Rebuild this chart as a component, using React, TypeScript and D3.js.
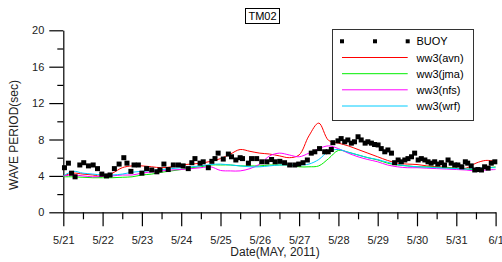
import React, { useEffect, useRef } from 'react'
import * as d3 from 'd3'

// buoy observations: day offset from 5/21 00:00, period in seconds
const buoyDay = [
  0.03, 0.13, 0.21, 0.30, 0.42, 0.52, 0.64, 0.76, 0.87, 0.98,
  1.10, 1.19, 1.30, 1.42, 1.54, 1.62, 1.72, 1.80, 1.91, 2.00,
  2.12, 2.25, 2.38, 2.46, 2.56, 2.67, 2.80, 2.93, 3.05, 3.18,
  3.27, 3.35, 3.48, 3.56, 3.69, 3.78, 3.86, 3.94, 4.07, 4.20,
  4.28, 4.39, 4.50, 4.56, 4.71, 4.79, 4.92, 5.05, 5.18, 5.30,
  5.39, 5.51, 5.63, 5.76, 5.89, 5.99, 6.10, 6.21, 6.31, 6.40,
  6.52, 6.65, 6.74, 6.82, 6.86, 6.99, 7.07, 7.16, 7.24, 7.33,
  7.41, 7.50, 7.58, 7.68, 7.75, 7.84, 7.92, 8.01, 8.09, 8.18,
  8.26, 8.35, 8.43, 8.52, 8.60, 8.69, 8.77, 8.86, 8.94, 9.03,
  9.11, 9.20, 9.28, 9.36, 9.45, 9.53, 9.62, 9.70, 9.79, 9.87,
  9.96, 10.04, 10.14, 10.23, 10.29, 10.38, 10.47, 10.55, 10.64, 10.72,
  10.81, 10.89, 10.98,
]
const buoyVal = [
  4.9, 5.4, 4.3, 3.9, 5.2, 5.45, 5.1, 5.2, 4.8, 4.2,
  4.0, 4.1, 4.8, 5.3, 6.0, 5.4, 4.5, 5.2, 5.2, 4.3,
  4.8, 4.65, 4.45, 4.65, 5.3, 4.7, 5.2, 5.2, 5.1, 4.8,
  5.45, 5.9, 5.4, 5.55, 4.9, 5.6, 5.9, 6.5, 5.85, 6.4,
  6.1, 5.75, 6.0, 5.9, 5.4, 5.9, 5.9, 5.55, 5.55, 5.8,
  5.55, 5.6, 5.45, 5.2, 5.2, 5.3, 5.45, 5.75, 6.5, 6.65,
  7.0, 6.65, 6.65, 6.9, 7.65, 7.85, 8.1, 7.75, 7.95, 7.6,
  7.75, 8.3, 7.95, 7.6, 7.75, 7.6, 7.45, 7.4, 7.0, 6.65,
  6.85, 6.5, 5.45, 5.75, 5.55, 5.75, 5.9, 6.1, 6.5, 5.75,
  5.9, 5.75, 5.55, 5.4, 5.55, 5.3, 5.45, 5.2, 5.75, 5.4,
  5.2, 5.2, 5.0, 5.55, 5.4, 5.1, 4.65, 4.7, 4.65, 5.0,
  4.85, 5.4, 5.55,
]

// model output every 6 hours from 5/21 00:00
const avn = [
  4.0, 4.3, 4.2, 4.1, 3.95, 4.3, 4.9, 5.1, 5.1, 5.0, 4.9, 5.0,
  5.2, 5.3, 5.4, 5.6, 5.9, 6.4, 6.9, 6.7, 6.5, 6.4, 6.2, 6.0,
  6.3, 8.4, 9.8, 7.9, 7.6, 7.3, 6.9, 6.5, 6.1, 5.7, 5.4, 5.3,
  5.25, 5.1, 5.0, 4.95, 4.85, 4.85, 5.4, 5.7, 5.6,
]
const jma = [
  3.9, 3.9, 3.85, 3.8, 3.8, 3.8, 3.85, 3.9, 4.1, 4.2, 4.4, 4.55,
  4.7, 4.9, 5.0, 5.2, 5.2, 5.2, 5.1, 5.1, 5.1, 5.2, 5.2, 5.2,
  5.0, 5.0, 5.1, 5.9, 6.8, 6.6, 6.3, 6.0, 5.75, 5.4, 5.2, 5.1,
  5.0, 5.0, 4.95, 4.9, 4.85, 4.75, 4.7, 4.85, 5.0,
]
const nfs = [
  4.0, 4.1, 4.0, 3.9, 3.95, 4.0, 4.1, 4.1, 4.3, 4.45, 4.55, 4.65,
  4.7, 4.8, 4.9, 5.0, 4.6, 4.55, 4.55, 4.8, 5.3, 6.2, 6.5, 6.3,
  6.1, 6.5, 7.0, 7.3, 7.0, 6.5, 6.1, 5.8, 5.55, 5.2, 5.0, 4.9,
  4.9, 4.85, 4.8, 4.75, 4.7, 4.65, 4.55, 4.65, 4.7,
]
const wrf = [
  4.0, 4.5, 4.3, 4.2, 4.1, 4.1, 4.2, 4.4, 4.5, 4.6, 4.7, 4.8,
  4.9, 5.0, 5.1, 5.25, 5.3, 5.2, 5.1, 5.0, 5.0, 5.1, 5.2, 5.2,
  5.2, 5.3, 5.8, 6.7, 6.9, 6.6, 6.3, 6.0, 5.8, 5.5, 5.25, 5.1,
  5.0, 4.95, 4.9, 4.85, 4.8, 4.75, 4.8, 4.9, 4.9,
]

const dayLabels = ['5/21', '5/22', '5/23', '5/24', '5/25', '5/26', '5/27', '5/28', '5/29', '5/30', '5/31', '6/1']
const seriesNames = ['ww3(avn)', 'ww3(jma)', 'ww3(nfs)', 'ww3(wrf)']
const seriesColors = ['#ff0000', '#00ee00', '#ff00ff', '#00ccff']

export default function App() {
  const ref = useRef<SVGSVGElement>(null)

  useEffect(() => {
    const svg = d3.select(ref.current)
    svg.selectAll('*').remove()
    const font = 'Arial, "Liberation Sans", sans-serif'

    const x = d3.scaleLinear().domain([0, 11]).range([63.3, 495.6])
    const y = d3.scaleLinear().domain([0, 20]).range([212.3, 30.3])

    // y axis: major ticks with labels, minor ticks between
    const yAxis = svg.append('g').attr('transform', `translate(${x(0)},0)`)
    yAxis.call(d3.axisLeft(y).tickValues([0, 4, 8, 12, 16, 20]).tickSize(14).tickSizeOuter(0).tickPadding(5))
    yAxis.append('g').call(d3.axisLeft(y).tickValues([2, 6, 10, 14, 18]).tickSize(6).tickFormat(() => '').tickSizeOuter(0))
      .select('.domain').remove()

    // x axis
    const xAxis = svg.append('g').attr('transform', `translate(0,${y(0)})`)
    xAxis.call(d3.axisBottom(x).tickValues(d3.range(0, 12)).tickSize(14).tickSizeOuter(0).tickPadding(10)
      .tickFormat((d) => dayLabels[d as number]))
    xAxis.append('g').call(d3.axisBottom(x).tickValues(d3.range(0.5, 11, 1)).tickSize(7).tickFormat(() => '').tickSizeOuter(0))
      .select('.domain').remove()

    svg.selectAll('.domain, .tick line').attr('stroke', '#000').attr('stroke-width', 1.2)
    svg.selectAll('.tick text').attr('font-family', font).attr('font-size', 11).attr('fill', '#222')

    // model lines
    const models = [avn, jma, nfs, wrf]
    const line = d3.line<number>()
      .x((_, i) => x(i / 4))
      .y((d) => y(d))
      .curve(d3.curveCatmullRom.alpha(0.5))
    models.forEach((m, k) => {
      svg.append('path').attr('d', line(m)).attr('fill', 'none')
        .attr('stroke', seriesColors[k]).attr('stroke-width', 1)
    })

    // buoy squares
    const sq = 5
    svg.append('g').selectAll('rect').data(buoyVal).enter().append('rect')
      .attr('x', (_, i) => x(buoyDay[i]) - sq / 2)
      .attr('y', (d) => y(d) - sq / 2)
      .attr('width', sq).attr('height', sq).attr('fill', '#000')

    // title box
    const title = svg.append('g')
    title.append('rect').attr('x', 245.5).attr('y', 8.5).attr('width', 34).attr('height', 15)
      .attr('fill', '#fff').attr('stroke', '#000').attr('stroke-width', 1)
    title.append('text').attr('x', 262.5).attr('y', 20).attr('text-anchor', 'middle')
      .attr('font-family', font).attr('font-size', 11).attr('fill', '#000').text('TM02')

    // legend
    const lg = svg.append('g')
    lg.append('rect').attr('x', 332.5).attr('y', 29.5).attr('width', 141).attr('height', 91)
      .attr('fill', '#fff').attr('stroke', '#333').attr('stroke-width', 1)
    const rowY = [41.3, 57.5, 73.7, 89.8, 106]
    ;[342, 375, 407.7].forEach((px) => {
      lg.append('rect').attr('x', px - 2).attr('y', rowY[0] - 2).attr('width', 4).attr('height', 4).attr('fill', '#000')
    })
    lg.append('text').attr('x', 416.5).attr('y', rowY[0] + 4).attr('font-family', font).attr('font-size', 11).text('BUOY')
    seriesNames.forEach((n, k) => {
      const ry = rowY[k + 1]
      lg.append('line').attr('x1', 342).attr('x2', 407.7).attr('y1', ry).attr('y2', ry)
        .attr('stroke', seriesColors[k]).attr('stroke-width', 1)
      lg.append('text').attr('x', 416.5).attr('y', ry + 4).attr('font-family', font).attr('font-size', 11).text(n)
    })

    // axis titles
    svg.append('text').attr('transform', 'translate(18,135) rotate(-90)').attr('text-anchor', 'middle')
      .attr('font-family', font).attr('font-size', 12).attr('fill', '#222').text('WAVE PERIOD(sec)')
    svg.append('text').attr('x', 275).attr('y', 256).attr('text-anchor', 'middle')
      .attr('font-family', font).attr('font-size', 12).attr('fill', '#222').text('Date(MAY, 2011)')
  }, [])

  return (
    <svg ref={ref} width={502} height={262}
      style={{ position: 'absolute', left: 0, top: 0, background: '#fff' }} />
  )
}
